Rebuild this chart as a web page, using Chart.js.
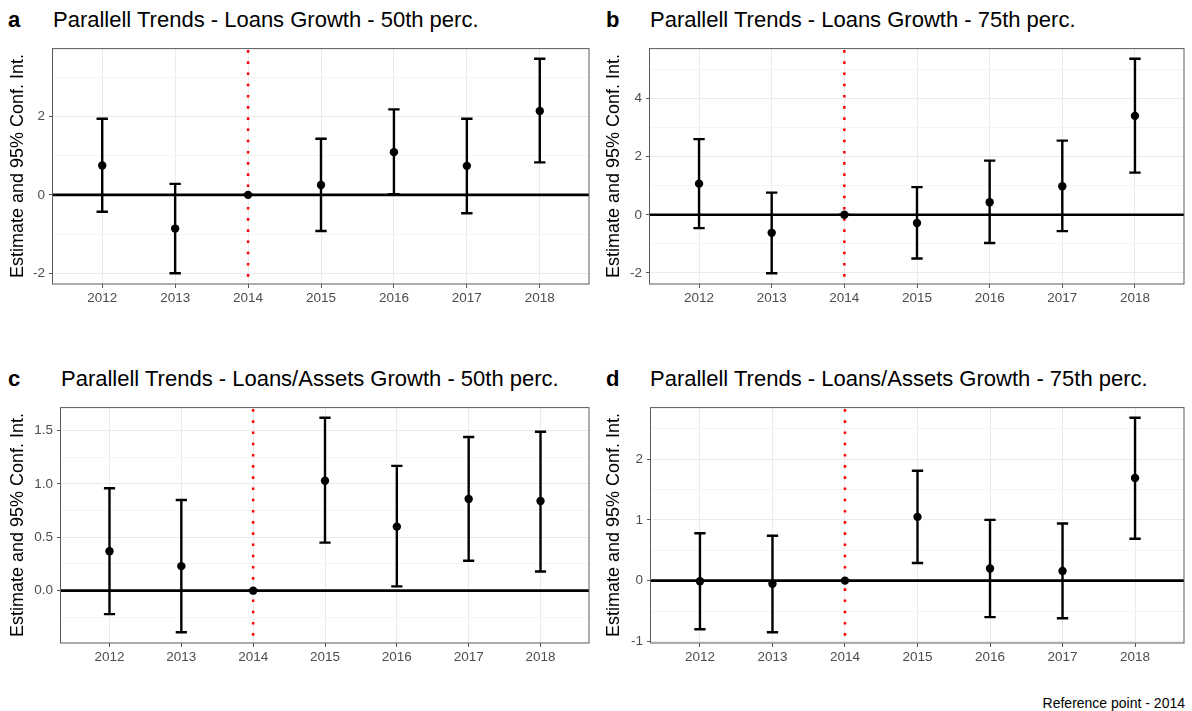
<!DOCTYPE html>
<html><head><meta charset="utf-8">
<script src="https://cdn.jsdelivr.net/npm/chart.js@4.4.1/dist/chart.umd.min.js"></script>
<style>
html,body{margin:0;padding:0;background:#fff;}
body{width:1192px;height:711px;position:relative;overflow:hidden;font-family:"Liberation Sans",Arial,sans-serif;}
.cv{position:absolute;}
.lbl{position:absolute;font-size:22px;line-height:22px;font-weight:bold;color:#000;white-space:nowrap;}
.ttl{position:absolute;font-size:22px;line-height:22px;color:#000;white-space:nowrap;}
.cap{position:absolute;font-size:14px;line-height:14px;color:#000;white-space:nowrap;}
</style></head><body>
<div class="lbl" style="left:8px;top:9px;">a</div>
<div class="ttl" style="left:53px;top:9px;">Parallell Trends - Loans Growth - 50th perc.</div>
<div class="lbl" style="left:606px;top:9px;">b</div>
<div class="ttl" style="left:650px;top:9px;">Parallell Trends - Loans Growth - 75th perc.</div>
<div class="lbl" style="left:8px;top:368px;">c</div>
<div class="ttl" style="left:61px;top:368px;">Parallell Trends - Loans/Assets Growth - 50th perc.</div>
<div class="lbl" style="left:606px;top:368px;">d</div>
<div class="ttl" style="left:650px;top:368px;">Parallell Trends - Loans/Assets Growth - 75th perc.</div>
<div class="cap" style="right:7px;top:696px;">Reference point - 2014</div>

<canvas id="ca" class="cv" style="left:0px;top:36px;" width="596" height="280"></canvas>
<canvas id="cb" class="cv" style="left:596px;top:36px;" width="596" height="280"></canvas>
<canvas id="cc" class="cv" style="left:0px;top:395px;" width="596" height="280"></canvas>
<canvas id="cd" class="cv" style="left:596px;top:395px;" width="596" height="280"></canvas>
<script>
// ---- data ----
const years = ['2012','2013','2014','2015','2016','2017','2018'];
const refYear = '2014';
const refValue = 0;
const yTitle = 'Estimate and 95% Conf. Int.';

const aEst  = [0.75, -0.86, 0, 0.25, 1.09, 0.74, 2.14];
const aLow  = [-0.43, -2.00, 0, -0.92, 0.02, -0.47, 0.83];
const aHigh = [1.94, 0.28, 0, 1.43, 2.18, 1.94, 3.47];

const bEst  = [1.07, -0.62, 0, -0.28, 0.43, 0.98, 3.40];
const bLow  = [-0.46, -2.01, 0, -1.50, -0.97, -0.56, 1.45];
const bHigh = [2.60, 0.76, 0, 0.95, 1.86, 2.55, 5.36];

const cEst  = [0.37, 0.23, 0, 1.03, 0.60, 0.86, 0.84];
const cLow  = [-0.22, -0.39, 0, 0.45, 0.04, 0.28, 0.18];
const cHigh = [0.96, 0.85, 0, 1.62, 1.17, 1.44, 1.49];

const dEst  = [-0.01, -0.05, 0, 1.05, 0.20, 0.16, 1.69];
const dLow  = [-0.80, -0.85, 0, 0.29, -0.60, -0.62, 0.69];
const dHigh = [0.78, 0.74, 0, 1.81, 1.00, 0.94, 2.68];

const aTicks = [-2, 0, 2];        const aMinor = [-1, 1, 3];
const bTicks = [-2, 0, 2, 4];     const bMinor = [-1, 1, 3, 5];
const cTicks = [0, 0.5, 1, 1.5];  const cMinor = [-0.25, 0.25, 0.75, 1.25];
const dTicks = [-1, 0, 1, 2];     const dMinor = [-0.5, 0.5, 1.5, 2.5];
const aTickLabels = ['-2', '0', '2'];
const bTickLabels = ['-2', '0', '2', '4'];
const cTickLabels = ['0.0', '0.5', '1.0', '1.5'];
const dTickLabels = ['-1', '0', '1', '2'];

// ---- styling / layout ----
const FONT = '"Liberation Sans", Arial, sans-serif';
const capHalf = 0.078;   // half width of error bar caps (x units)
const xExpand = 0.675;   // discrete expansion

const errPlugin = {
  id: 'errbars',
  beforeDatasetsDraw(chart, args, o) {
    const {ctx, chartArea: a, scales: {x, y}} = chart;
    ctx.save();
    ctx.beginPath(); ctx.rect(a.left, a.top, a.width, a.height); ctx.clip();
    // reference year (dotted red)
    const vx = x.getPixelForValue(years.indexOf(refYear));
    ctx.strokeStyle = '#ff0000'; ctx.lineWidth = 2.5; ctx.setLineDash([2.6, 8.6]);
    ctx.beginPath(); ctx.moveTo(vx, a.top + 2); ctx.lineTo(vx, a.bottom); ctx.stroke();
    ctx.setLineDash([]);
    // zero line
    const hy = y.getPixelForValue(refValue);
    ctx.strokeStyle = '#000'; ctx.lineWidth = 2.6;
    ctx.beginPath(); ctx.moveTo(a.left, hy); ctx.lineTo(a.right, hy); ctx.stroke();
    // error bars
    ctx.lineWidth = 2.4; ctx.lineCap = 'butt';
    o.low.forEach((lo, i) => {
      const hi = o.high[i];
      const px = x.getPixelForValue(i);
      const x0 = x.getPixelForValue(i - capHalf), x1 = x.getPixelForValue(i + capHalf);
      const p0 = y.getPixelForValue(lo), p1 = y.getPixelForValue(hi);
      ctx.beginPath();
      ctx.moveTo(x0, p0); ctx.lineTo(x1, p0);
      ctx.moveTo(px, p0); ctx.lineTo(px, p1);
      ctx.moveTo(x0, p1); ctx.lineTo(x1, p1);
      ctx.stroke();
    });
    ctx.restore();
  },
  afterDatasetsDraw(chart) {
    const {ctx, chartArea: a} = chart;
    ctx.save();
    ctx.strokeStyle = '#5a5a5a'; ctx.lineWidth = 1;
    ctx.strokeRect(a.left - 0.5, a.top + 0.5, a.right - a.left + 0.5, a.bottom - a.top - 0.5);
    ctx.restore();
  }
};

function makeChart(id, est, low, high, majors, minors, labels, yW, padRight) {
  const lo = Math.min(...low), hi = Math.max(...high);
  const pad = (hi - lo) * 0.05;
  const allTicks = majors.concat(minors).sort((p, q) => p - q);
  new Chart(document.getElementById(id), {
    type: 'scatter',
    data: {
      datasets: [{
        data: est.map((v, i) => ({x: i, y: v})),
        pointRadius: 4.2, pointHoverRadius: 4.2,
        backgroundColor: '#000', borderColor: '#000', borderWidth: 0
      }]
    },
    plugins: [errPlugin],
    options: {
      responsive: false, animation: false, events: [],
      layout: {padding: {top: 5, right: padRight, left: 0, bottom: 0}},
      plugins: {
        legend: {display: false}, tooltip: {enabled: false},
        errbars: {low: low, high: high}
      },
      scales: {
        x: {
          type: 'linear', bounds: 'data',
          min: -xExpand, max: years.length - 1 + xExpand,
          afterBuildTicks: s => { s.ticks = years.map((_, i) => ({value: i})); },
          afterFit: s => { s.height = 32; },
          border: {display: false},
          grid: {color: '#ebebeb', lineWidth: 1, tickLength: 4, tickColor: '#555'},
          ticks: {
            autoSkip: false, maxRotation: 0, padding: 2,
            color: '#4d4d4d', font: {family: FONT, size: 13.5},
            callback: v => years[v]
          }
        },
        y: {
          type: 'linear', bounds: 'data',
          min: lo - pad, max: hi + pad,
          afterBuildTicks: s => { s.ticks = allTicks.map(v => ({value: v})); },
          afterFit: s => { s.width = yW; },
          border: {display: false},
          grid: {
            color: c => (c.tick && majors.includes(c.tick.value)) ? '#ebebeb' : '#f4f4f4',
            lineWidth: 1, tickLength: 4,
            tickColor: c => (c.tick && majors.includes(c.tick.value)) ? '#555' : 'rgba(0,0,0,0)'
          },
          ticks: {
            autoSkip: false, padding: 4,
            color: '#4d4d4d', font: {family: FONT, size: 13.5},
            callback: v => { const k = majors.indexOf(v); return k >= 0 ? labels[k] : ''; }
          },
          title: {
            display: true, text: yTitle, color: '#000',
            font: {family: FONT, size: 18}, padding: {top: 7, bottom: 0}
          }
        }
      }
    }
  });
}

makeChart('ca', aEst, aLow, aHigh, aTicks, aMinor, aTickLabels, 53, 7);
makeChart('cb', bEst, bLow, bHigh, bTicks, bMinor, bTickLabels, 54, 8);
makeChart('cc', cEst, cLow, cHigh, cTicks, cMinor, cTickLabels, 61, 7);
makeChart('cd', dEst, dLow, dHigh, dTicks, dMinor, dTickLabels, 55, 8);
</script>
</body></html>
